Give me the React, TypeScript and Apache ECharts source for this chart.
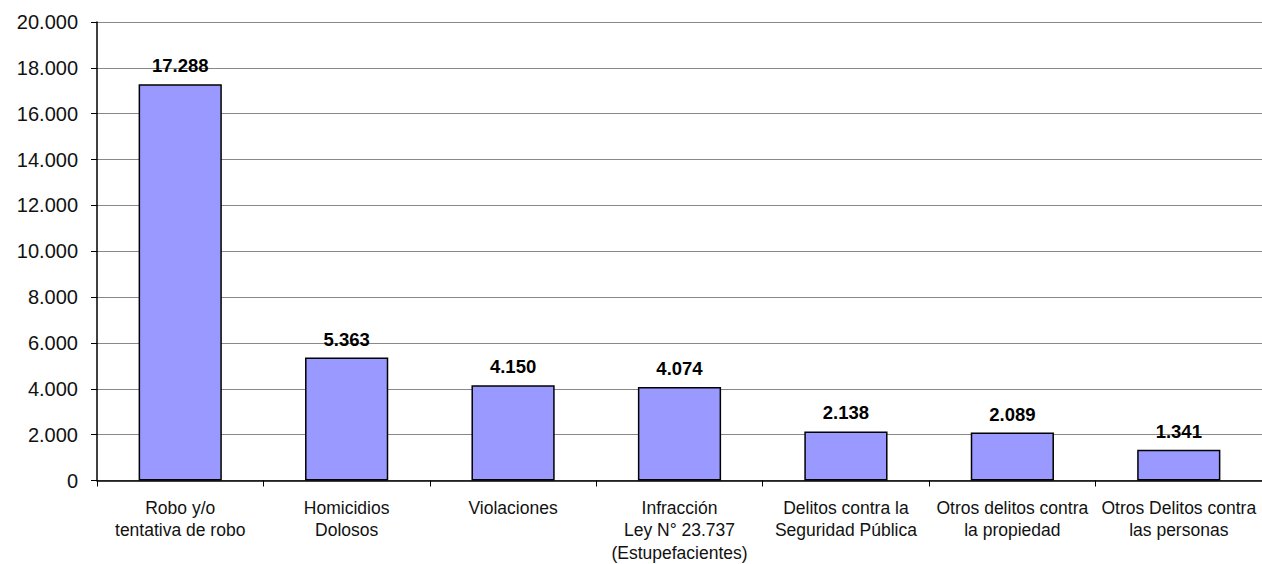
import React, { useEffect, useRef } from "react";
import * as echarts from "echarts";

const categories = [
  "Robo y/o\ntentativa de robo",
  "Homicidios\nDolosos",
  "Violaciones",
  "Infracción\nLey N° 23.737\n(Estupefacientes)",
  "Delitos contra la\nSeguridad Pública",
  "Otros delitos contra\nla propiedad",
  "Otros Delitos contra\nlas personas",
];
const values = [17288, 5363, 4150, 4074, 2138, 2089, 1341];

const fmt = (v: number) => {
  const s = String(Math.round(v));
  return s.replace(/\B(?=(\d{3})+(?!\d))/g, ".");
};

export default function App() {
  const ref = useRef<HTMLDivElement>(null);
  useEffect(() => {
    if (!ref.current) return;
    const chart = echarts.init(ref.current, null, { renderer: "svg" });
    chart.setOption({
      animation: false,
      backgroundColor: "#ffffff",
      grid: { left: 97, right: 0, top: 22, bottom: 83, containLabel: false },
      xAxis: {
        type: "category",
        data: categories,
        axisLine: { lineStyle: { color: "#000", width: 1.5 } },
        axisTick: { show: true, length: 6, alignWithLabel: false, lineStyle: { color: "#000" } },
        axisLabel: {
          interval: 0,
          margin: 16,
          color: "#111",
          fontFamily: "Liberation Sans, Arial, sans-serif",
          fontSize: 17.5,
          lineHeight: 22.5,
        },
      },
      yAxis: {
        type: "value",
        min: 0,
        max: 20000,
        interval: 2000,
        axisLine: { show: true, lineStyle: { color: "#000", width: 1.5 } },
        axisTick: { show: true, length: 6, lineStyle: { color: "#000" } },
        splitLine: { lineStyle: { color: "#888", width: 1 } },
        axisLabel: {
          margin: 19,
          color: "#111",
          fontFamily: "Liberation Sans, Arial, sans-serif",
          fontSize: 20,
          formatter: (v: number) => fmt(v),
        },
      },
      series: [
        {
          type: "bar",
          data: values,
          barWidth: "50%",
          itemStyle: { color: "#9999FF", borderColor: "#000", borderWidth: 1.5 },
          label: {
            show: true,
            position: "top",
            distance: 9,
            color: "#000",
            fontWeight: "bold",
            fontFamily: "Liberation Sans, Arial, sans-serif",
            fontSize: 18.5,
            formatter: (p: any) => fmt(p.value),
          },
        },
      ],
    });
    return () => chart.dispose();
  }, []);
  return <div ref={ref} style={{ width: 1262, height: 564, position: "absolute", left: 0, top: 0 }} />;
}
